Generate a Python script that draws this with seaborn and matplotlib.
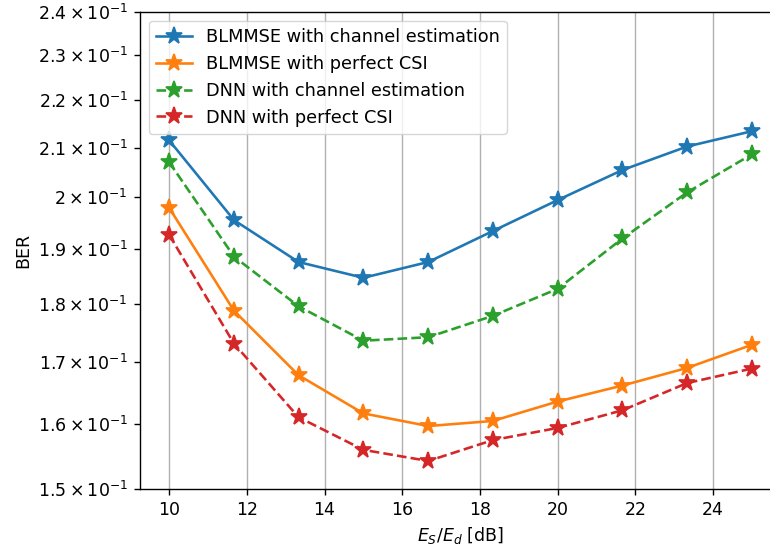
import matplotlib
matplotlib.use("Agg")
import matplotlib.pyplot as plt
import matplotlib.ticker as mticker
import numpy as np
import pandas as pd
import seaborn as sns

snr = [10.0, 11.67, 13.33, 15.0, 16.67, 18.33, 20.0, 21.67, 23.33, 25.0]
blmmse_est = [0.2115, 0.1955, 0.1876, 0.1847, 0.1876, 0.1934, 0.1994, 0.2054, 0.2102, 0.2134]
blmmse_csi = [0.1979, 0.1788, 0.1678, 0.1616, 0.1596, 0.1604, 0.1635, 0.1661, 0.1690, 0.1729]
dnn_est = [0.2070, 0.1886, 0.1796, 0.1736, 0.1742, 0.1779, 0.1827, 0.1920, 0.2009, 0.2086]
dnn_csi = [0.1927, 0.1731, 0.1610, 0.1559, 0.1542, 0.1574, 0.1593, 0.1621, 0.1665, 0.1689]

labels = ["BLMMSE with channel estimation", "BLMMSE with perfect CSI",
          "DNN with channel estimation", "DNN with perfect CSI"]
series = [blmmse_est, blmmse_csi, dnn_est, dnn_csi]
colors = ["#1f77b4", "#ff7f0e", "#2ca02c", "#d62728"]
styles = ["-", "-", "--", "--"]

yticks = [0.15, 0.16, 0.17, 0.18, 0.19, 0.20, 0.21, 0.22, 0.23, 0.24]
ytick_labels = [r"$\mathdefault{1.5\times10^{-1}}$", r"$\mathdefault{1.6\times10^{-1}}$",
                r"$\mathdefault{1.7\times10^{-1}}$", r"$\mathdefault{1.8\times10^{-1}}$",
                r"$\mathdefault{1.9\times10^{-1}}$", r"$\mathdefault{2\times10^{-1}}$",
                r"$\mathdefault{2.1\times10^{-1}}$", r"$\mathdefault{2.2\times10^{-1}}$",
                r"$\mathdefault{2.3\times10^{-1}}$", r"$\mathdefault{2.4\times10^{-1}}$"]

s = 1.25
plt.rcParams.update({
    "font.size": 10 * s,
    "axes.linewidth": 0.8 * s,
    "xtick.major.size": 3.5 * s,
    "ytick.major.size": 3.5 * s,
    "xtick.major.width": 0.8 * s,
    "ytick.major.width": 0.8 * s,
    "xtick.major.pad": 3.5 * s,
    "ytick.major.pad": 3.5 * s,
})

fig = plt.figure(figsize=(7.7, 5.53), dpi=100)
ax = fig.add_axes([140 / 770, (553 - 489) / 553, (781 - 140) / 770, (489 - 12) / 553])

for lab, vals, c, ls in zip(labels, series, colors, styles):
    df = pd.DataFrame({"x": snr, "y": vals})
    sns.lineplot(data=df, x="x", y="y", ax=ax, label=lab, color=c, linestyle=ls,
                 marker="*", markersize=10 * s, markeredgecolor=c, markeredgewidth=1 * s,
                 linewidth=1.5 * s)

ax.set_yscale("log")
ax.set_ylim(0.15, 0.24)
ax.yaxis.set_major_locator(mticker.FixedLocator(yticks))
ax.yaxis.set_major_formatter(mticker.FixedFormatter(ytick_labels))
ax.yaxis.set_minor_locator(mticker.NullLocator())
ax.set_xlim(9.25, 25.75)
ax.set_xticks([10, 12, 14, 16, 18, 20, 22, 24])
ax.grid(axis="x", color="#b0b0b0", linewidth=0.8 * s)
ax.set_xlabel(r"$E_S/E_d$ [dB]", fontsize=10 * s)
ax.set_ylabel("BER", fontsize=10 * s)
ax.tick_params(labelsize=10 * s)
ax.legend(loc="upper left", fontsize=12.8)

fig.savefig("out.png", dpi=100)
